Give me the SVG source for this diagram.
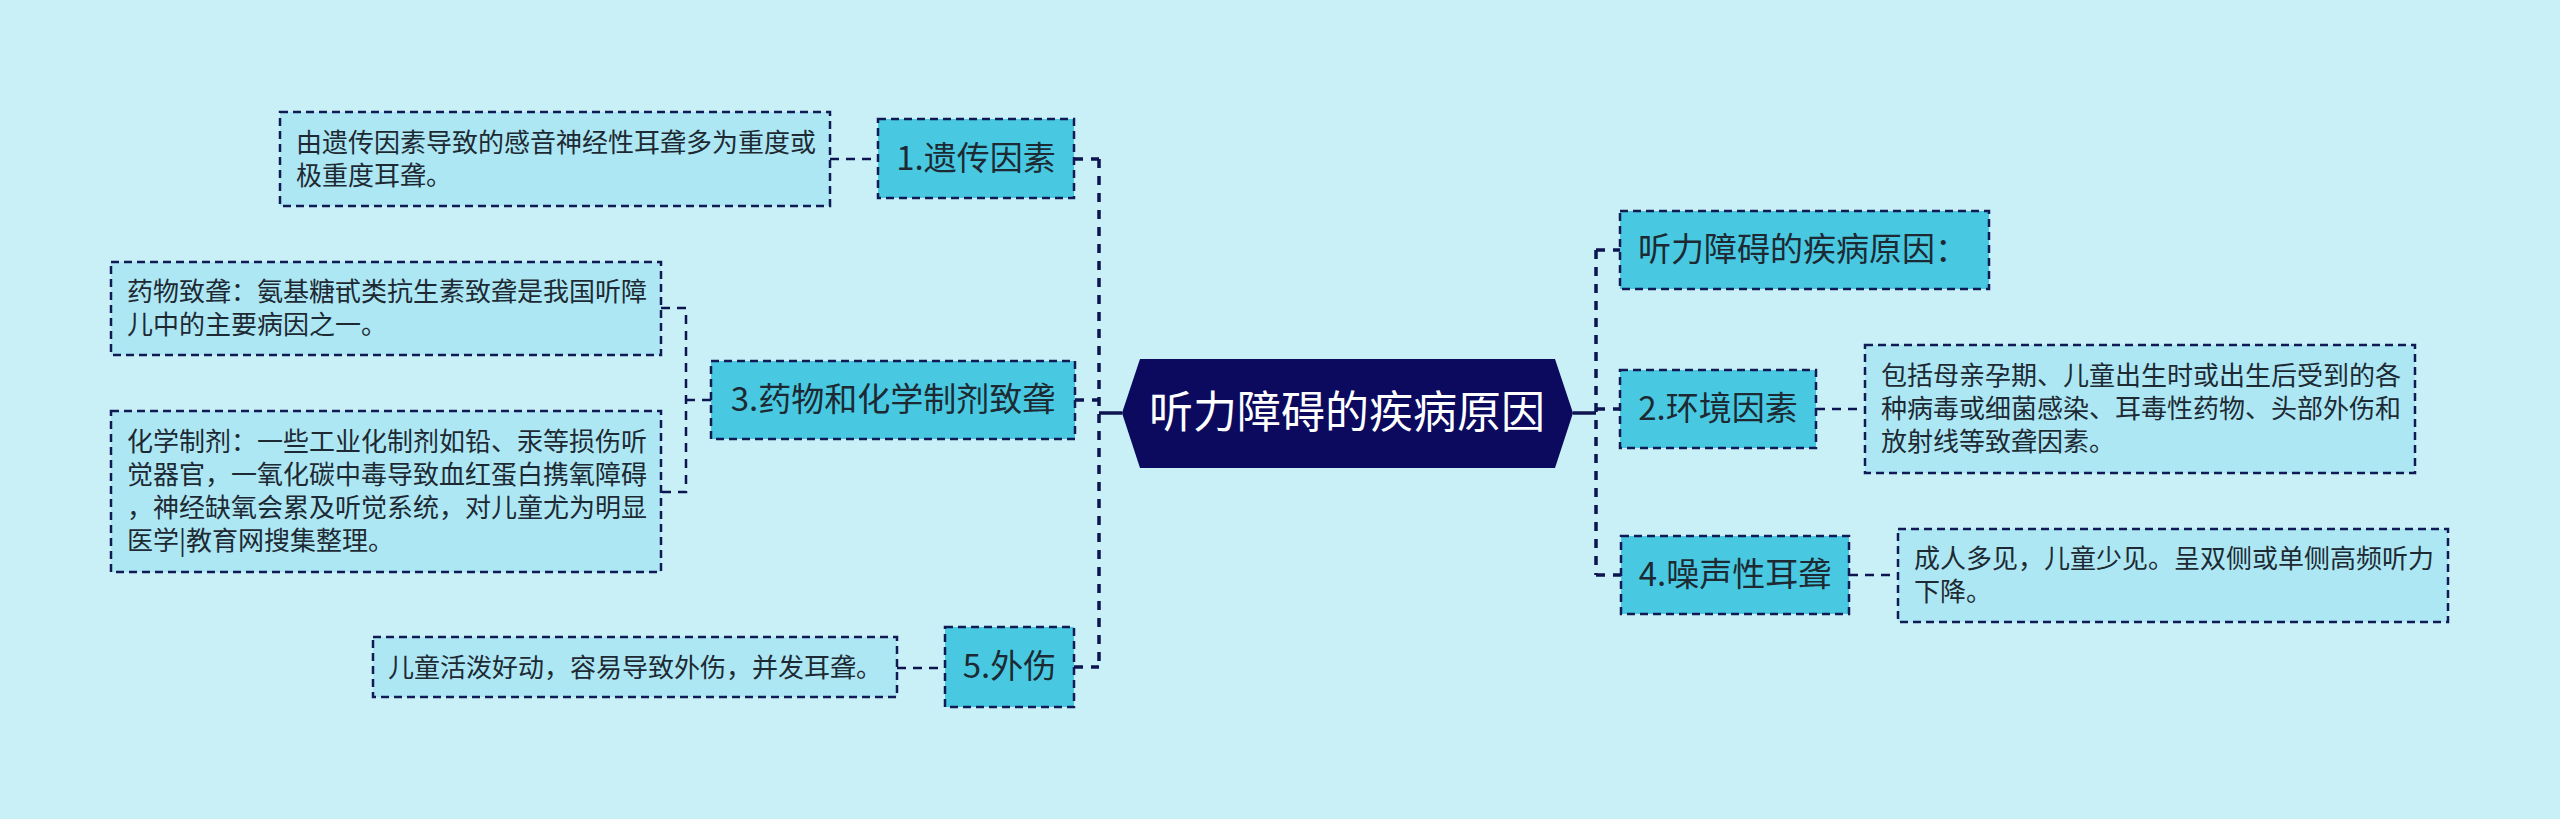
<svg xmlns="http://www.w3.org/2000/svg" width="2560" height="819" viewBox="0 0 2560 819">
<style>
.node rect{fill:#48c9e1;stroke:#101a55;stroke-width:2.5;stroke-dasharray:8 5}
.leaf rect{fill:#ade7f3;stroke:#101a55;stroke-width:2.5;stroke-dasharray:8 5}
.nt{font-family:"Noto Sans CJK SC","Noto Sans",sans-serif;font-size:33px;fill:#1d2a33;text-anchor:middle}
.lt{font-family:"Noto Sans CJK SC","Noto Sans",sans-serif;font-size:26px;fill:#1d2a33}
.main{stroke:#0d1450;stroke-width:3.5;fill:none;stroke-dasharray:9 8}
.sub{stroke:#0d1450;stroke-width:2.5;fill:none;stroke-dasharray:9 7}
.solid{stroke:#0d1450;stroke-width:3.5;fill:none}
</style>
<rect width="2560" height="819" fill="#c9f0f7"/>
<g id="connectors">
<path class="main" d="M1099 159 V668"/>
<path class="main" d="M1074 159 H1099 M1075 400 H1099 M1074 667 H1099"/>
<path class="solid" d="M1099 413 H1122"/>
<path class="main" d="M1596 250 V575"/>
<path class="main" d="M1596 250 H1620 M1596 409 H1620 M1596 575 H1621"/>
<path class="solid" d="M1573 413 H1596"/>
<path class="sub" d="M830 159 H878"/>
<path class="sub" d="M897 668 H945"/>
<path class="sub" d="M661 308 H686 V492 H661 M686 400 H711"/>
<path class="sub" d="M1816 409 H1865"/>
<path class="sub" d="M1849 575 H1898"/>
</g>
<g id="root">
<polygon points="1122,413 1140,359 1555,359 1573,413 1555,468 1140,468" fill="#0b0a5e"/>
<text x="1347" y="428" font-family="Noto Sans CJK SC, sans-serif" font-size="44" fill="#ffffff" text-anchor="middle">听力障碍的疾病原因</text>
</g>
<g id="n1" class="node"><rect x="878" y="119" width="196" height="79"/><text class="nt" x="976" y="170">1.遗传因素</text></g>
<g id="n3" class="node"><rect x="711" y="361" width="364" height="78"/><text class="nt" x="893" y="411">3.药物和化学制剂致聋</text></g>
<g id="n5" class="node"><rect x="945" y="627" width="129" height="80"/><text class="nt" x="1009.5" y="678">5.外伤</text></g>
<g id="n0" class="node"><rect x="1620" y="211" width="369" height="78"/><text class="nt" x="1638" y="261" style="text-anchor:start">听力障碍的疾病原因：</text></g>
<g id="n2" class="node"><rect x="1620" y="370" width="196" height="78"/><text class="nt" x="1718" y="420">2.环境因素</text></g>
<g id="n4" class="node"><rect x="1621" y="536" width="228" height="78"/><text class="nt" x="1735" y="586">4.噪声性耳聋</text></g>
<g id="l1" class="leaf"><rect x="280" y="112" width="550" height="94"/>
<text class="lt" x="296" y="152">由遗传因素导致的感音神经性耳聋多为重度或</text>
<text class="lt" x="296" y="185">极重度耳聋。</text></g>
<g id="l3a" class="leaf"><rect x="111" y="262" width="550" height="93"/>
<text class="lt" x="127" y="301">药物致聋：氨基糖甙类抗生素致聋是我国听障</text>
<text class="lt" x="127" y="334">儿中的主要病因之一。</text></g>
<g id="l3b" class="leaf"><rect x="111" y="411" width="550" height="161"/>
<text class="lt" x="127" y="451">化学制剂：一些工业化制剂如铅、汞等损伤听</text>
<text class="lt" x="127" y="484">觉器官，一氧化碳中毒导致血红蛋白携氧障碍</text>
<text class="lt" x="127" y="517">，神经缺氧会累及听觉系统，对儿童尤为明显</text>
<text class="lt" x="127" y="550">医学|教育网搜集整理。</text></g>
<g id="l5" class="leaf"><rect x="373" y="637" width="524" height="60"/>
<text class="lt" x="388" y="677">儿童活泼好动，容易导致外伤，并发耳聋。</text></g>
<g id="l2" class="leaf"><rect x="1865" y="345" width="550" height="128"/>
<text class="lt" x="1881" y="385">包括母亲孕期、儿童出生时或出生后受到的各</text>
<text class="lt" x="1881" y="418">种病毒或细菌感染、耳毒性药物、头部外伤和</text>
<text class="lt" x="1881" y="451">放射线等致聋因素。</text></g>
<g id="l4" class="leaf"><rect x="1898" y="529" width="550" height="93"/>
<text class="lt" x="1914" y="568">成人多见，儿童少见。呈双侧或单侧高频听力</text>
<text class="lt" x="1914" y="601">下降。</text></g>
</svg>
